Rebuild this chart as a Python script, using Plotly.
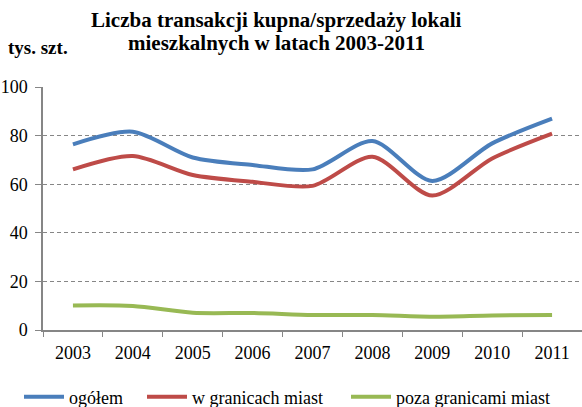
import plotly.graph_objects as go

years = ["2003", "2004", "2005", "2006", "2007", "2008", "2009", "2010", "2011"]
ogolem = [76.4, 81.6, 71.0, 67.9, 66.1, 77.8, 61.3, 76.8, 87.0]
w_granicach = [66.1, 71.6, 63.8, 61.0, 59.3, 71.3, 55.3, 70.6, 80.8]
poza_granicami = [10.1, 9.9, 7.1, 7.0, 6.2, 6.2, 5.5, 6.0, 6.2]
y_ticks = [0, 20, 40, 60, 80, 100]

FONT = "Times New Roman, Liberation Serif, DejaVu Serif, serif"
PW = 539  # plot width in px
L = 43
T = 87

def px2paper(x):
    return (x - L) / PW

fig = go.Figure()
series = [
    ("ogółem", ogolem, "#4a7ebb", "legend", 19),
    ("w granicach miast", w_granicach, "#be4b48", "legend2", 142),
    ("poza granicami miast", poza_granicami, "#98b954", "legend3", 346),
]
legends = {}
for name, vals, col, lg, lx in series:
    fig.add_trace(go.Scatter(
        x=years, y=vals, name=name, mode="lines", legend=lg,
        line=dict(color=col, width=4, shape="spline", smoothing=0.8),
    ))
    legends[lg] = dict(orientation="h", x=px2paper(lx), xanchor="left", y=-0.2,
                       yanchor="top", font=dict(family=FONT, size=18),
                       itemwidth=40, bgcolor="rgba(0,0,0,0)")

fig.update_layout(
    width=582, height=407,
    margin=dict(l=L, r=0, t=T, b=77, autoexpand=False),
    paper_bgcolor="white", plot_bgcolor="white",
    font=dict(family=FONT, size=18, color="black"),
    showlegend=True,
    annotations=[
        dict(
            text="<b>Liczba transakcji kupna/sprzedaży lokali</b>",
            xref="paper", yref="paper", x=px2paper(276), xanchor="center",
            y=1, yanchor="middle", yshift=T - 20, showarrow=False,
            font=dict(family=FONT, size=21, color="black"),
        ),
        dict(
            text="<b>mieszkalnych w latach 2003-2011</b>",
            xref="paper", yref="paper", x=px2paper(276), xanchor="center",
            y=1, yanchor="middle", yshift=T - 43, showarrow=False,
            font=dict(family=FONT, size=21, color="black"),
        ),
        dict(
            text="<b>tys. szt.</b>", xref="paper", yref="paper",
            x=px2paper(6), xanchor="left", y=1, yanchor="middle", yshift=T - 47,
            showarrow=False, font=dict(family=FONT, size=19, color="black"),
        ),
    ],
    **legends,
)

fig.update_xaxes(
    type="category", range=[-0.5, 8.5], tickson="boundaries", ticks="outside", ticklen=5,
    tickcolor="#868686", showline=True, linecolor="#868686", linewidth=1.5,
    showgrid=False, tickfont=dict(family=FONT, size=18), ticklabelstandoff=6,
)
fig.update_yaxes(
    range=[0, 100], tickvals=y_ticks, ticks="outside", ticklen=6,
    tickcolor="#868686", showline=True, linecolor="#868686", linewidth=1.5,
    showgrid=True, gridcolor="#868686", griddash="4px,3px", gridwidth=1.2,
    zeroline=False, tickfont=dict(family=FONT, size=18), ticklabelstandoff=4,
)

fig.write_html("out.html", config={"displayModeBar": False},
               post_script="document.body.style.margin='0';")
